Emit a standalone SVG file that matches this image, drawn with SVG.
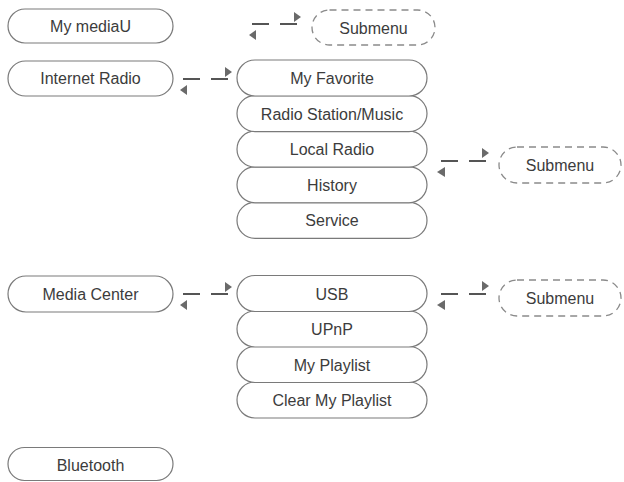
<svg xmlns="http://www.w3.org/2000/svg" width="624" height="482" viewBox="0 0 624 482">
<style>
.n rect{fill:#fff;stroke:#7a7a7a;stroke-width:1.2}
.s rect{fill:#fff;stroke:#8a8a8a;stroke-width:1.3;stroke-dasharray:7 5}
text{font-family:"Liberation Sans",Arial,sans-serif;font-size:16px;fill:#3c3c3c;text-anchor:middle}
.c line{stroke:#555;stroke-width:2;stroke-dasharray:17 11}
.c polygon{fill:#6a6a6a}
</style>
<rect width="624" height="482" fill="#fff"/>
<g id="n-mymediau" class="n"><rect x="8" y="9" width="165" height="34" rx="17"/><text x="90.5" y="32">My mediaU</text></g>
<g id="n-internetradio" class="n"><rect x="8" y="61" width="165" height="35" rx="17.5"/><text x="90.5" y="84">Internet Radio</text></g>
<g id="n-mediacenter" class="n"><rect x="8" y="276" width="165" height="36" rx="18"/><text x="90.5" y="300">Media Center</text></g>
<g id="n-bluetooth" class="n"><rect x="8" y="447.5" width="165" height="33" rx="16.5"/><text x="90.5" y="471">Bluetooth</text></g>

<g id="n-service" class="n"><rect x="237" y="202.4" width="190" height="36" rx="18"/><text x="332" y="226">Service</text></g>
<g id="n-history" class="n"><rect x="237" y="166.8" width="190" height="36" rx="18"/><text x="332" y="190.5">History</text></g>
<g id="n-localradio" class="n"><rect x="237" y="131.2" width="190" height="36" rx="18"/><text x="332" y="155">Local Radio</text></g>
<g id="n-radiostation" class="n"><rect x="237" y="95.6" width="190" height="36" rx="18"/><text x="332" y="119.5">Radio Station/Music</text></g>
<g id="n-myfavorite" class="n"><rect x="237" y="60" width="190" height="36" rx="18"/><text x="332" y="84">My Favorite</text></g>

<g id="n-clearplaylist" class="n"><rect x="237" y="382" width="190" height="36" rx="18"/><text x="332" y="406">Clear My Playlist</text></g>
<g id="n-myplaylist" class="n"><rect x="237" y="346.5" width="190" height="36" rx="18"/><text x="332" y="370.5">My Playlist</text></g>
<g id="n-upnp" class="n"><rect x="237" y="311" width="190" height="36" rx="18"/><text x="332" y="335">UPnP</text></g>
<g id="n-usb" class="n"><rect x="237" y="275.5" width="190" height="36" rx="18"/><text x="332" y="299.5">USB</text></g>

<g id="n-submenu1" class="s"><rect x="312" y="10" width="123" height="35" rx="17.5"/><text x="373.5" y="33.5">Submenu</text></g>
<g id="n-submenu2" class="s"><rect x="499" y="147" width="122" height="36" rx="18"/><text x="560" y="171">Submenu</text></g>
<g id="n-submenu3" class="s"><rect x="499" y="280" width="122" height="36" rx="18"/><text x="560" y="304">Submenu</text></g>

<g id="connectors" class="c">
<g transform="translate(252,24)"><line x1="0" y1="0" x2="46" y2="0"/><polygon points="42,-12 49,-7 42,-2"/><polygon points="-3,11 4,6 4,16"/></g>
<g transform="translate(183,79)"><line x1="0" y1="0" x2="46" y2="0"/><polygon points="42,-12 49,-7 42,-2"/><polygon points="-3,11 4,6 4,16"/></g>
<g transform="translate(441,161)"><line x1="0" y1="0" x2="46" y2="0"/><polygon points="41,-13 48,-8 41,-3"/><polygon points="-4,11 4,6 4,16"/></g>
<g transform="translate(183,294)"><line x1="0" y1="0" x2="46" y2="0"/><polygon points="42,-12 49,-7 42,-2"/><polygon points="-3,11 4,6 4,16"/></g>
<g transform="translate(441,294)"><line x1="0" y1="0" x2="46" y2="0"/><polygon points="41,-13 48,-8 41,-3"/><polygon points="-4,11 4,6 4,16"/></g>
</g>
</svg>
